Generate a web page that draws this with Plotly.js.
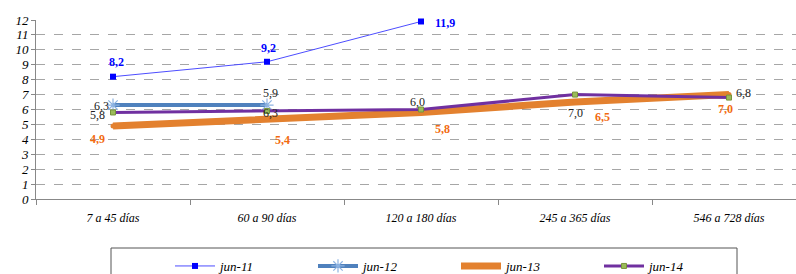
<!DOCTYPE html>
<html>
<head>
<meta charset="utf-8">
<script src="https://cdn.plot.ly/plotly-3.0.1.min.js"></script>
<style>html,body{margin:0;padding:0;background:#fff;}#chart{width:796px;height:274px;}</style>
</head>
<body>
<div id="chart"></div>
<script>
const categories = ["7 a 45 días", "60 a 90 días", "120 a 180 días", "245 a 365 días", "546 a 728 días"];
const jun11 = [8.2, 9.2, 11.9];
const jun12 = [6.3, 6.3];
const jun13 = [4.9, 5.4, 5.8, 6.5, 7.0];
const jun14 = [5.8, 5.9, 6.0, 7.0, 6.8];
const yTicks = [0,1,2,3,4,5,6,7,8,9,10,11,12];

// label offsets in pixels [dx, dy-up]
const off11 = [[3, 15], [1, 14], [24, -2]];
const off12 = [[-12, -1], [3, -8]];
const off13 = [[-16, -13], [15, -22], [21, -17], [27, -15], [-4, -14]];
const off14 = [[-16, -3], [3, 18], [-4, 8], [0, -18], [14, 5]];

const fmt = v => v.toFixed(1).replace('.', ',');
const serif = "Liberation Serif";

const series = [
  {name: "jun-11", vals: jun11, off: off11, font: {family: serif, size: 12, color: "#0000ff", weight: "bold"},
   line: {color: "#4d4dff", width: 1}, marker: {symbol: "square", size: 6, color: "#0000ff"}},
  {name: "jun-12", vals: jun12, off: off12, font: {family: serif, size: 12, color: "#222"},
   line: {color: "#4f81bd", width: 4}, marker: {symbol: "asterisk-open", size: 11, color: "#8db3e2", line: {color: "#8db3e2", width: 1.2}}},
  {name: "jun-13", vals: jun13, off: off13, font: {family: serif, size: 12, color: "#f26a10", weight: "bold"},
   line: {color: "#e3812f", width: 7}, marker: {symbol: "circle", size: 5, color: "#e3812f"}},
  {name: "jun-14", vals: jun14, off: off14, font: {family: serif, size: 12, color: "#222"},
   line: {color: "#7030a0", width: 3}, marker: {symbol: "square", size: 5, color: "#9bbb59", line: {color: "#77933c", width: 1}}}
];

const traces = series.map(s => ({
  name: s.name, type: "scatter", mode: "lines+markers",
  x: categories.slice(0, s.vals.length), y: s.vals,
  line: s.line, marker: s.marker, cliponaxis: false
}));

const annotations = [];
series.forEach(s => {
  s.vals.forEach((v, i) => {
    annotations.push({
      x: categories[i], y: v, xref: "x", yref: "y",
      text: fmt(v), showarrow: false,
      xshift: s.off[i][0], yshift: s.off[i][1],
      font: s.font
    });
  });
});

const layout = {
  width: 796, height: 274,
  margin: {l: 36, r: 0, t: 20, b: 75, autoexpand: false},
  paper_bgcolor: "#fff", plot_bgcolor: "#fff",
  showlegend: true,
  font: {family: serif, color: "#000"},
  xaxis: {
    type: "category",
    categoryorder: "array", categoryarray: categories,
    range: [-0.5, 4.435],
    showgrid: false, zeroline: false,
    showline: true, linecolor: "#888", linewidth: 1,
    ticks: "outside", ticklen: 5, tickcolor: "#888",
    tickson: "boundaries",
    ticklabelstandoff: 8,
    tickfont: {family: serif, size: 12, style: "italic", color: "#000"},
    fixedrange: true
  },
  yaxis: {
    range: [0, 12],
    tickvals: yTicks, ticktext: yTicks.map(String),
    showgrid: true, gridcolor: "#a6a6a6", griddash: "dash", gridwidth: 1,
    zeroline: false,
    showline: true, linecolor: "#888", linewidth: 1,
    ticks: "outside", ticklen: 4, tickcolor: "#888",
    tickfont: {family: serif, size: 13, style: "italic", color: "#000"},
    fixedrange: true
  },
  legend: {
    orientation: "h",
    xref: "container", yref: "container",
    x: 170 / 796, xanchor: "left",
    y: 1 - 251 / 274, yanchor: "top",
    bgcolor: "rgba(0,0,0,0)",
    borderwidth: 0,
    entrywidth: 88, entrywidthmode: "pixels",
    itemwidth: 40,
    font: {family: serif, size: 13, style: "italic", color: "#000"}
  },
  annotations: annotations,
  shapes: [
    {type: "rect", xref: "paper", yref: "paper",
     x0: (111 - 36) / 760, x1: (737 - 36) / 760,
     y0: (199 - 248) / 179, y1: (199 - 290) / 179,
     line: {color: "#555", width: 1}, fillcolor: "rgba(0,0,0,0)", layer: "below"}
  ]
};

Plotly.newPlot("chart", traces, layout, {displayModeBar: false, staticPlot: true});
</script>
</body>
</html>
